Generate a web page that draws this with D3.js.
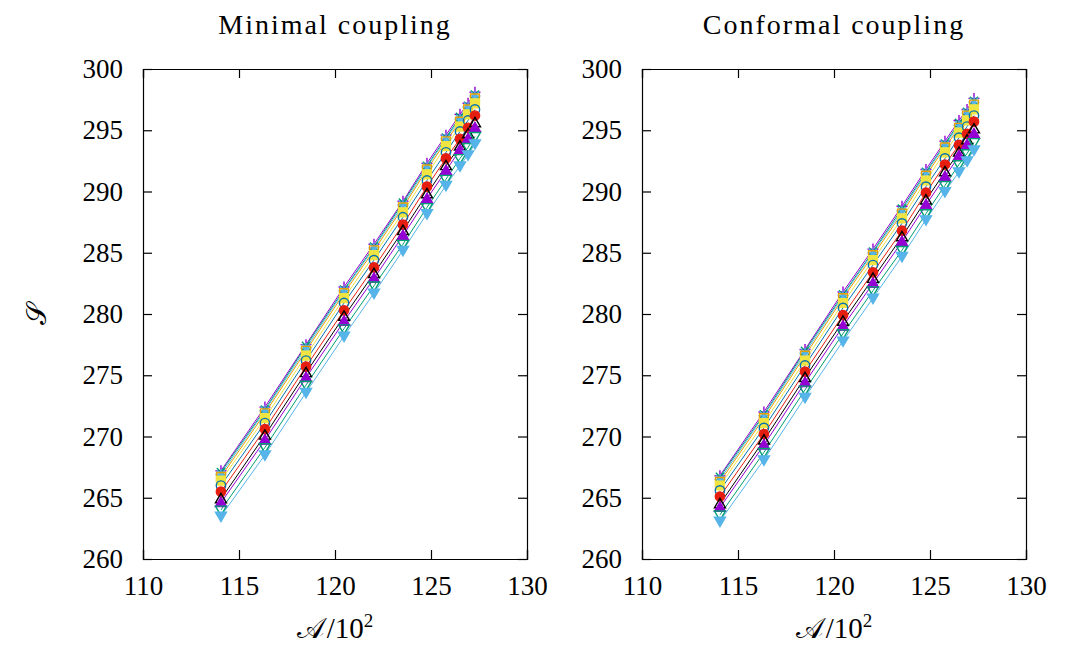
<!DOCTYPE html>
<html>
<head>
<meta charset="utf-8">
<script src="https://cdn.jsdelivr.net/npm/d3@7"></script>
<style>
  body { margin: 0; background: #fff; }
  text { font-family: "Liberation Serif", "DejaVu Serif", serif; fill: #000; }
</style>
</head>
<body>
<div class="canvas"></div>
<script>
// area values A/10^2 (x positions of the points)
const areas = [114.06, 116.35, 118.49, 120.47, 122.03, 123.54, 124.79, 125.78, 126.51, 126.93, 127.29]

// entropy S, one row per curve, minimal coupling
const minimalS = [
    [267.2, 272.4, 277.5, 282.2, 285.7, 289.2, 292.3, 294.6, 296.3, 297.2, 298.1],
    [267.1, 272.2, 277.4, 282.0, 285.5, 289.1, 292.1, 294.4, 296.1, 297.0, 297.9],
    [266.9, 272.1, 277.2, 281.9, 285.4, 288.9, 292.0, 294.3, 295.9, 296.9, 297.8],
    [266.7, 271.9, 277.0, 281.7, 285.2, 288.7, 291.8, 294.1, 295.7, 296.7, 297.6],
    [266.4, 271.5, 276.6, 281.3, 284.8, 288.3, 291.4, 293.7, 295.3, 296.3, 297.2],
    [266.0, 271.1, 276.2, 280.9, 284.4, 287.9, 290.9, 293.2, 294.9, 295.8, 296.7],
    [265.5, 270.6, 275.7, 280.3, 283.8, 287.3, 290.4, 292.7, 294.3, 295.2, 296.2],
    [264.9, 270.1, 275.2, 279.8, 283.3, 286.8, 289.8, 292.1, 293.7, 294.7, 295.6],
    [264.6, 269.7, 274.8, 279.4, 282.9, 286.4, 289.4, 291.7, 293.4, 294.3, 295.2],
    [264.0, 269.1, 274.2, 278.8, 282.3, 285.7, 288.7, 291.0, 292.7, 293.6, 294.5],
    [263.5, 268.5, 273.6, 278.2, 281.7, 285.2, 288.2, 290.5, 292.1, 293.0, 293.9]
]

// entropy S, conformal coupling
const conformalS = [
    [266.8, 272.0, 277.1, 281.8, 285.3, 288.8, 291.8, 294.1, 295.8, 296.7, 297.6],
    [266.7, 271.8, 277.0, 281.6, 285.1, 288.6, 291.6, 293.9, 295.6, 296.5, 297.4],
    [266.5, 271.7, 276.8, 281.5, 285.0, 288.4, 291.5, 293.8, 295.4, 296.4, 297.3],
    [266.3, 271.5, 276.6, 281.3, 284.8, 288.2, 291.3, 293.6, 295.2, 296.2, 297.1],
    [266.0, 271.1, 276.2, 280.9, 284.4, 287.8, 290.9, 293.2, 294.8, 295.8, 296.7],
    [265.6, 270.7, 275.8, 280.5, 284.0, 287.4, 290.4, 292.7, 294.4, 295.3, 296.2],
    [265.1, 270.2, 275.3, 279.9, 283.4, 286.8, 289.9, 292.2, 293.8, 294.7, 295.7],
    [264.5, 269.7, 274.8, 279.4, 282.9, 286.3, 289.3, 291.6, 293.2, 294.2, 295.1],
    [264.2, 269.3, 274.4, 279.0, 282.5, 285.9, 288.9, 291.2, 292.9, 293.8, 294.7],
    [263.6, 268.7, 273.8, 278.4, 281.9, 285.2, 288.2, 290.5, 292.2, 293.1, 294.0],
    [263.1, 268.1, 273.2, 277.8, 281.3, 284.7, 287.7, 290.0, 291.6, 292.5, 293.4]
]

const xTicks = [110, 115, 120, 125, 130]
const yTicks = [260, 265, 270, 275, 280, 285, 290, 295, 300]
const titles = ["Minimal coupling", "Conformal coupling"]

// gnuplot default line colours and point types 1..11
const colors = ["#9400d3", "#009e73", "#56b4e9", "#e69f00", "#f0e442", "#0072b2",
                "#e51e10", "#000000", "#9400d3", "#009e73", "#56b4e9"]
const pointTypes = [1, 2, 3, 4, 5, 6, 7, 8, 9, 10, 11]

const svg = d3.select(".canvas")
    .append("svg")
    .attr("width", 1088)
    .attr("height", 652)

const panelW = 384
const panelH = 490
const panels = [
    { left: 143, top: 69, data: minimalS },
    { left: 642, top: 69, data: conformalS }
]

// marker path for a gnuplot point type, centred on 0,0
function markerPath(pt, r) {
    const p = d3.path()
    if (pt === 1 || pt === 3) {
        p.moveTo(-r, 0); p.lineTo(r, 0)
        p.moveTo(0, -r); p.lineTo(0, r)
    }
    if (pt === 2 || pt === 3) {
        const q = r * 0.75
        p.moveTo(-q, -q); p.lineTo(q, q)
        p.moveTo(-q, q); p.lineTo(q, -q)
    }
    if (pt === 4 || pt === 5) {
        p.rect(-r * 0.8, -r * 0.8, r * 1.6, r * 1.6)
    }
    if (pt === 6 || pt === 7) {
        p.moveTo(r * 0.85, 0)
        p.arc(0, 0, r * 0.85, 0, 2 * Math.PI)
    }
    if (pt === 8 || pt === 9) {
        p.moveTo(0, -r); p.lineTo(r, r * 0.7); p.lineTo(-r, r * 0.7); p.closePath()
    }
    if (pt === 10 || pt === 11) {
        p.moveTo(0, r); p.lineTo(r, -r * 0.7); p.lineTo(-r, -r * 0.7); p.closePath()
    }
    return p.toString()
}
const filled = pt => pt === 5 || pt === 7 || pt === 9 || pt === 11

panels.forEach((panel, pi) => {
    const graph = svg.append("g")
        .attr("transform", `translate(${panel.left}, ${panel.top})`)

    const x = d3.scaleLinear().domain([110, 130]).range([0, panelW])
    const y = d3.scaleLinear().domain([260, 300]).range([panelH, 0])

    // curves
    const line = d3.line()
        .x((d, i) => x(areas[i]))
        .y(d => y(d))

    panel.data.forEach((series, k) => {
        graph.append("path")
            .attr("d", line(series))
            .attr("fill", "none")
            .attr("stroke", colors[k])
            .attr("stroke-width", 1)
    })
    panel.data.forEach((series, k) => {
        const pt = pointTypes[k]
        graph.append("g").selectAll("path")
            .data(series)
            .enter()
            .append("path")
            .attr("transform", (d, i) => `translate(${x(areas[i])}, ${y(d)})`)
            .attr("d", markerPath(pt, 5.5))
            .attr("fill", filled(pt) ? colors[k] : "none")
            .attr("stroke", colors[k])
            .attr("stroke-width", 1.4)
    })

    // axes: inward ticks on all four sides
    const tick = 9
    const bottom = d3.axisBottom(x).tickValues(xTicks).tickSize(-tick).tickPadding(tick + 8)
    const top = d3.axisTop(x).tickValues(xTicks).tickSize(-tick).tickFormat("")
    const leftAx = d3.axisLeft(y).tickValues(yTicks).tickSize(-tick).tickPadding(tick + 11)
    const rightAx = d3.axisRight(y).tickValues(yTicks).tickSize(-tick).tickFormat("")

    const gb = graph.append("g").attr("transform", `translate(0, ${panelH})`).call(bottom)
    const gt = graph.append("g").call(top)
    const gl = graph.append("g").call(leftAx)
    const gr = graph.append("g").attr("transform", `translate(${panelW}, 0)`).call(rightAx)

    ;[gb, gt, gl, gr].forEach(g => {
        g.select(".domain").attr("stroke", "#000").attr("stroke-width", 1.2)
        g.selectAll(".tick line").attr("stroke", "#000").attr("stroke-width", 1.2)
        g.selectAll("text")
            .style("font-family", "'Liberation Serif', serif")
            .style("font-size", "27px")
            .attr("fill", "#000")
    })

    // title
    svg.append("text")
        .attr("x", panel.left + panelW / 2)
        .attr("y", 34)
        .attr("text-anchor", "middle")
        .style("font-size", "28px")
        .style("letter-spacing", "2px")
        .text(titles[pi])

    // x label
    const xl = svg.append("text")
        .attr("x", panel.left + panelW / 2)
        .attr("y", 638)
        .attr("text-anchor", "middle")
        .style("font-size", "29px")
    xl.append("tspan").text("𝒜")
    xl.append("tspan").attr("dx", 3).text("/10")
    xl.append("tspan").attr("dy", -11).style("font-size", "19px").text("2")
})

// y label
svg.append("text")
    .attr("transform", "translate(36, 314) rotate(-90)")
    .attr("text-anchor", "middle")
    .attr("dy", "0.35em")
    .style("font-size", "28px")
    .text("𝒮")
</script>
</body>
</html>
